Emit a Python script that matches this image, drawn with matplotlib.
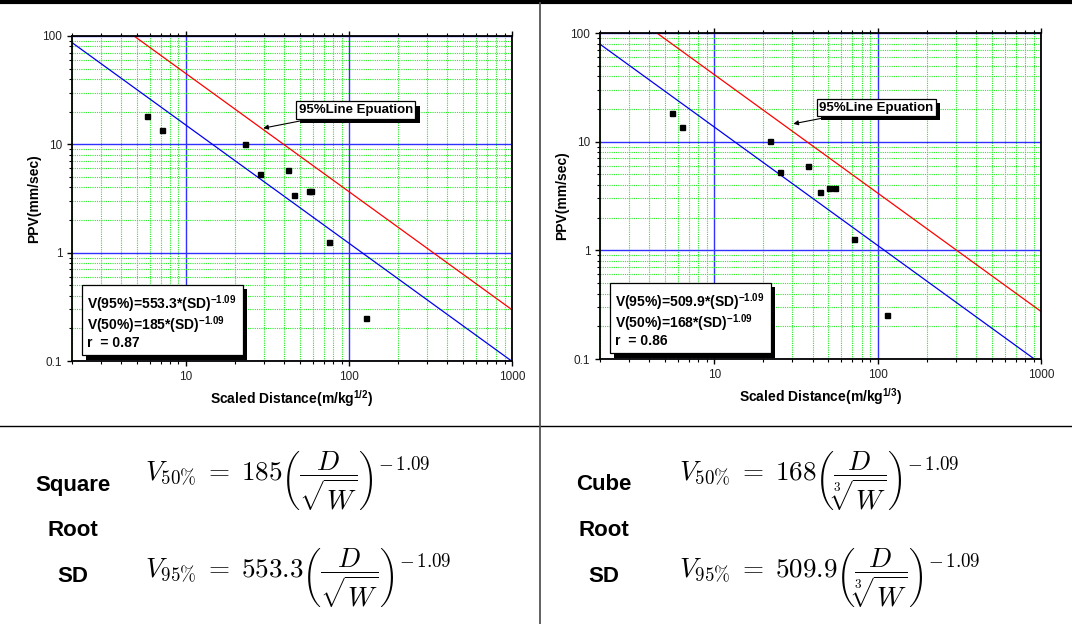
import numpy as np
import matplotlib
matplotlib.use("Agg")
import matplotlib.pyplot as plt
import matplotlib.patheffects as pe
from matplotlib.lines import Line2D
from matplotlib.ticker import LogLocator, NullFormatter, FixedLocator, FixedFormatter

plt.rcParams['font.family'] = ['Liberation Sans', 'DejaVu Sans']
plt.rcParams['mathtext.fontset'] = 'custom'
plt.rcParams['mathtext.rm'] = 'Liberation Sans'
plt.rcParams['mathtext.it'] = 'Liberation Sans:italic'
plt.rcParams['mathtext.bf'] = 'Liberation Sans:bold'

# measured points, square root scaled distance
sd_sq = [5.8, 7.1, 23.1, 28.4, 42.4, 45.9, 57.0, 58.9, 75.2, 127.0]
ppv_sq = [18.2, 13.6, 10.0, 5.3, 5.8, 3.42, 3.72, 3.69, 1.26, 0.247]

# measured points, cube root scaled distance
sd_cu = [5.55, 6.32, 22.1, 25.3, 37.7, 44.2, 50.4, 55.2, 71.6, 113.5]
ppv_cu = [18.3, 13.7, 10.2, 5.3, 5.93, 3.47, 3.77, 3.71, 1.28, 0.254]

# regression coefficients V = K * SD^n
k95 = [553.3, 509.9]
k50 = [185, 168]
n_exp = -1.09
r_val = [0.87, 0.86]
line_sd = np.array([2.0, 1000.0])

x_ticks = [10, 100, 1000]
x_labels = ['10', '100', '1000']
y_ticks = [0.1, 1, 10, 100]
y_labels = ['0.1', '1', '10', '100']

xlabels = [r'Scaled Distance(m/kg$^{\mathbf{1/2}}$)',
           r'Scaled Distance(m/kg$^{\mathbf{1/3}}$)']
row_names = [['Square', 'Root', 'SD'], ['Cube', 'Root', 'SD']]
root_tex = [r'\sqrt{W}', r'\sqrt[3]{W}']
k_txt50 = ['185', '168']
k_txt95 = ['553.3', '509.9']

fig = plt.figure(figsize=(10.72, 6.24), dpi=100)

ax_rects = [[72 / 1072, 1 - 361 / 624, 440 / 1072, 325 / 624],
            [600 / 1072, 1 - 359 / 624, 441 / 1072, 326 / 624]]
datasets = [(sd_sq, ppv_sq), (sd_cu, ppv_cu)]
arrow_tip = [(29.8, 14.1), (30.5, 14.6)]
label_pos = [(0.515, 0.772), (0.497, 0.771)]

for i in range(2):
    ax = fig.add_axes(ax_rects[i])
    ax.set_xscale('log')
    ax.set_yscale('log')
    ax.set_xlim(2, 1000)
    ax.set_ylim(0.1, 100)

    # grid: green dotted minor, blue solid major
    ax.xaxis.set_minor_locator(LogLocator(base=10, subs=np.arange(2, 10)))
    ax.yaxis.set_minor_locator(LogLocator(base=10, subs=np.arange(2, 10)))
    ax.xaxis.set_minor_formatter(NullFormatter())
    ax.yaxis.set_minor_formatter(NullFormatter())
    ax.xaxis.set_major_locator(FixedLocator(x_ticks))
    ax.xaxis.set_major_formatter(FixedFormatter(x_labels))
    ax.yaxis.set_major_locator(FixedLocator(y_ticks))
    ax.yaxis.set_major_formatter(FixedFormatter(y_labels))
    ax.grid(which='minor', color='#22ee22', linestyle=(0, (1, 1)), linewidth=0.8)
    ax.grid(which='major', color='#3030ff', linestyle='-', linewidth=1.0)
    ax.set_axisbelow(True)

    sd, ppv = datasets[i]
    ax.plot(line_sd, k95[i] * line_sd ** n_exp, color='red', lw=0.9)
    ax.plot(line_sd, k50[i] * line_sd ** n_exp, color='#0000ee', lw=0.9)
    ax.plot(sd, ppv, 's', color='black', markersize=3.6)

    for s in ax.spines.values():
        s.set_linewidth(1.3)
    ax.tick_params(which='both', direction='out', top=True, right=False,
                   labelsize=8.5, labelcolor='#222222')
    ax.tick_params(which='major', length=3.5, width=1)
    ax.tick_params(which='minor', length=2, width=0.8)

    ax.set_xlabel(xlabels[i], fontsize=10, fontweight='bold', labelpad=4)
    ax.set_ylabel('PPV(mm/sec)', fontsize=10, fontweight='bold', labelpad=1)

    # equation box with shadow
    eq = (r'V(95%)=' + str(k95[i]) + r'*(SD)$^{\mathbf{-1.09}}$' + '\n'
          + r'V(50%)=' + str(k50[i]) + r'*(SD)$^{\mathbf{-1.09}}$' + '\n'
          + 'r  = ' + str(r_val[i]))
    t = ax.text(0.035, 0.035, eq, transform=ax.transAxes, fontsize=10,
                fontweight='bold', ha='left', va='bottom', linespacing=0.95,
                bbox=dict(boxstyle='square,pad=0.42', fc='white', ec='black', lw=0.9),
                zorder=6)
    t.get_bbox_patch().set_path_effects([
        pe.SimplePatchShadow(offset=(3, -3), shadow_rgbFace='black', alpha=1.0),
        pe.Normal()])

    # 95% line annotation
    a = ax.annotate('95%Line Epuation', xy=arrow_tip[i], xycoords='data',
                    xytext=label_pos[i], textcoords='axes fraction',
                    fontsize=9.5, fontweight='bold', ha='left', va='center',
                    bbox=dict(boxstyle='square,pad=0.2', fc='white', ec='black', lw=0.9),
                    arrowprops=dict(arrowstyle='-|>', color='black', lw=0.8,
                                    mutation_scale=7, shrinkA=0, shrinkB=0),
                    zorder=6)
    a.get_bbox_patch().set_path_effects([
        pe.SimplePatchShadow(offset=(3, -3), shadow_rgbFace='black', alpha=1.0),
        pe.Normal()])

# bottom formulas
name_x = [73 / 1072, 604 / 1072]
form_x = [145 / 1072, 679 / 1072]
name_y = [1 - 485 / 624, 1 - 530 / 624, 1 - 577 / 624]
for i in range(2):
    for j in range(3):
        fig.text(name_x[i], name_y[j], row_names[i][j], fontsize=16,
                 fontweight='bold', ha='center', va='center')
    f50 = (r'$V_{50\%}\;=\;' + k_txt50[i] + r'\left(\dfrac{D}{' + root_tex[i]
           + r'}\right)^{-\,1.09}$')
    f95 = (r'$V_{95\%}\;=\;' + k_txt95[i] + r'\left(\dfrac{D}{' + root_tex[i]
           + r'}\right)^{-\,1.09}$')
    fig.text(form_x[i], 1 - 481 / 624, f50, fontsize=19.5, ha='left',
             va='center', math_fontfamily='cm')
    fig.text(form_x[i], 1 - 578 / 624, f95, fontsize=19.5, ha='left',
             va='center', math_fontfamily='cm')

# table frame
fig.add_artist(Line2D([0, 1], [1 - 2 / 624, 1 - 2 / 624], color='black', lw=3))
fig.add_artist(Line2D([0, 1], [1 - 426 / 624, 1 - 426 / 624], color='black', lw=1))
fig.add_artist(Line2D([540 / 1072, 540 / 1072], [0, 1 - 3 / 624], color='#555555', lw=1.3))

fig.savefig('out.png', dpi=100)
